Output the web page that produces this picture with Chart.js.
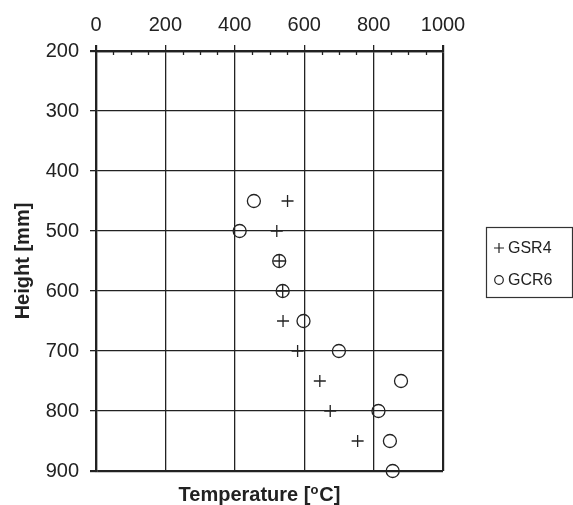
<!DOCTYPE html>
<html>
<head>
<meta charset="utf-8">
<script src="https://cdn.jsdelivr.net/npm/chart.js@4.4.1/dist/chart.umd.min.js"></script>
<style>
  html, body { margin: 0; padding: 0; background: #fff; }
  canvas { display: block; }
</style>
</head>
<body>
<canvas id="tempChart" width="573" height="505"></canvas>
<script>
// temperature ticks (top axis) and height ticks (left axis, reversed)
const xTicks = [0, 200, 400, 600, 800, 1000];
const xMinorStep = 50;
const yTicks = [200, 300, 400, 500, 600, 700, 800, 900];

// GSR4 (+)
const gsr4Heights = [450, 500, 550, 600, 650, 700, 750, 800, 850];
const gsr4Temps = [552, 521, 528, 538, 539, 581, 645, 675, 754];

// GCR6 (o)
const gcr6Heights = [450, 500, 550, 600, 650, 700, 750, 800, 850, 900];
const gcr6Temps = [455, 414, 528, 538, 598, 700, 879, 814, 847, 855];

const seriesNames = ['GSR4', 'GCR6'];

const ink = '#222';
const fontFamily = '"Liberation Sans", Arial, Helvetica, sans-serif';

function toPoints(temps, heights) {
	return temps.map(function(t, i) { return { x: t, y: heights[i] }; });
}

// small inward ticks on the top axis
const minorTicks = {
	id: 'minorTicks',
	afterDraw: function(chart) {
		let s = chart.scales.x;
		let ctx = chart.ctx;
		ctx.save();
		ctx.strokeStyle = ink;
		ctx.lineWidth = 1.3;
		let first = xTicks[0], last = xTicks[xTicks.length - 1];
		for (let v = first + xMinorStep; v < last; v += xMinorStep) {
			if (xTicks.indexOf(v) >= 0) continue;
			let px = Math.round(s.getPixelForValue(v)) + 0.5;
			ctx.beginPath();
			ctx.moveTo(px, s.bottom);
			ctx.lineTo(px, s.bottom + 4);
			ctx.stroke();
		}
		ctx.restore();
	}
};

// bottom title with superscript o
const bottomTitle = {
	id: 'bottomTitle',
	afterDraw: function(chart) {
		let ctx = chart.ctx;
		let area = chart.chartArea;
		let big = 'bold 20px ' + fontFamily;
		let small = 'bold 13px ' + fontFamily;
		let a = 'Temperature [', o = 'o', b = 'C]';
		ctx.save();
		ctx.fillStyle = ink;
		ctx.textBaseline = 'alphabetic';
		ctx.font = big;
		let wa = ctx.measureText(a).width, wb = ctx.measureText(b).width;
		ctx.font = small;
		let wo = ctx.measureText(o).width + 1;
		let total = wa + wo + wb;
		let x = (area.left + area.right) / 2 - 10 - total / 2;
		let y = 501;
		ctx.font = big;
		ctx.fillText(a, x, y);
		ctx.font = small;
		ctx.fillText(o, x + wa, y - 7);
		ctx.font = big;
		ctx.fillText(b, x + wa + wo, y);
		ctx.restore();
	}
};

// boxed legend on the right
const boxLegend = {
	id: 'boxLegend',
	afterDraw: function(chart) {
		let ctx = chart.ctx;
		ctx.save();
		ctx.strokeStyle = '#333';
		ctx.lineWidth = 1.2;
		ctx.strokeRect(486.5, 227.5, 86, 70);
		chart.data.datasets.forEach(function(ds, i) {
			let cx = 499, cy = 248 + i * 32;
			ctx.strokeStyle = ink;
			ctx.lineWidth = 1.2;
			ctx.beginPath();
			if (ds.pointStyle === 'cross') {
				ctx.moveTo(cx - 5, cy); ctx.lineTo(cx + 5, cy);
				ctx.moveTo(cx, cy - 5); ctx.lineTo(cx, cy + 5);
			} else {
				ctx.arc(cx, cy, 4.3, 0, Math.PI * 2);
			}
			ctx.stroke();
			ctx.fillStyle = ink;
			ctx.font = '16px ' + fontFamily;
			ctx.textBaseline = 'middle';
			ctx.fillText(ds.label, 508, cy + 1);
		});
		ctx.restore();
	}
};

function edgeWidth(ticks) {
	return function(c) {
		if (!c.tick) return 1.3;
		let v = c.tick.value;
		return (v === ticks[0] || v === ticks[ticks.length - 1]) ? 2.2 : 1.3;
	};
}

new Chart(document.getElementById('tempChart'), {
	type: 'scatter',
	data: {
		datasets: [
			{
				label: seriesNames[0],
				data: toPoints(gsr4Temps, gsr4Heights),
				pointStyle: 'cross',
				pointRadius: 6,
				pointHoverRadius: 6,
				borderColor: ink,
				backgroundColor: 'rgba(0,0,0,0)',
				borderWidth: 1.3,
				clip: false
			},
			{
				label: seriesNames[1],
				data: toPoints(gcr6Temps, gcr6Heights),
				pointStyle: 'circle',
				pointRadius: 6.5,
				pointHoverRadius: 6.5,
				borderColor: ink,
				backgroundColor: 'rgba(0,0,0,0)',
				borderWidth: 1.3,
				clip: false
			}
		]
	},
	options: {
		responsive: false,
		animation: false,
		events: [],
		layout: { padding: { left: 0, top: 0, right: 130, bottom: 34 } },
		plugins: {
			legend: { display: false },
			tooltip: { enabled: false }
		},
		scales: {
			x: {
				type: 'linear',
				position: 'top',
				min: xTicks[0],
				max: xTicks[xTicks.length - 1],
				afterBuildTicks: function(s) { s.ticks = xTicks.map(function(v) { return { value: v }; }); },
				afterFit: function(s) { s.height = 51; },
				ticks: {
					color: ink,
					font: { family: fontFamily, size: 20 },
					padding: 8,
					maxRotation: 0,
					autoSkip: false,
					callback: function(v) { return String(v); }
				},
				grid: {
					color: ink,
					tickColor: ink,
					tickLength: 6,
					lineWidth: edgeWidth(xTicks)
				},
				border: { display: true, color: ink, width: 2.2 }
			},
			y: {
				type: 'linear',
				position: 'left',
				reverse: true,
				min: yTicks[0],
				max: yTicks[yTicks.length - 1],
				afterBuildTicks: function(s) { s.ticks = yTicks.map(function(v) { return { value: v }; }); },
				afterFit: function(s) { s.width = 96; },
				ticks: {
					color: ink,
					font: { family: fontFamily, size: 20 },
					padding: 11,
					autoSkip: false,
					callback: function(v) { return String(v); }
				},
				grid: {
					color: ink,
					tickColor: ink,
					tickLength: 6,
					lineWidth: edgeWidth(yTicks)
				},
				border: { display: true, color: ink, width: 2.2 },
				title: {
					display: true,
					text: 'Height [mm]',
					color: ink,
					font: { family: fontFamily, size: 20, weight: 'bold', lineHeight: 1.2 },
					padding: { top: 11, bottom: 0 }
				}
			}
		}
	},
	plugins: [minorTicks, bottomTitle, boxLegend]
});
</script>
</body>
</html>
